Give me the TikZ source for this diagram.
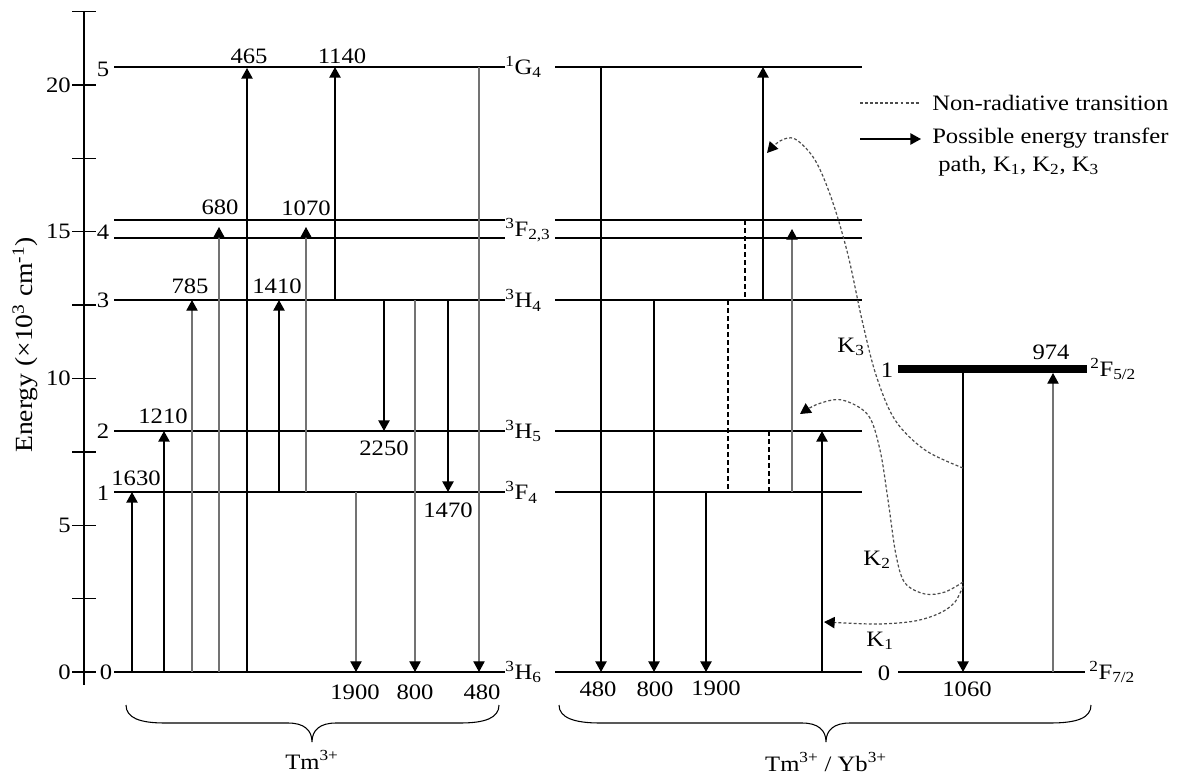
\documentclass[tikz,border=0pt]{standalone}
\usepackage{fontspec}
\setmainfont{Liberation Serif}[FakeStretch=1.12]
\usetikzlibrary{arrows.meta}
\newcommand\labfont{\fontsize{16.5}{19}\selectfont}
\begin{document}
\begin{tikzpicture}[x=0.75pt,y=-0.75pt,
  lvl/.style={line width=1.1pt,black},
  blk/.style={line width=1.1pt,black},
  gry/.style={line width=0.9pt,black!55},
  tipu/.style={-{Triangle[length=8pt,width=8.5pt,color=black]}},
  tipk/.style={-{Triangle[length=8pt,width=8.5pt,color=black]}},
  nrad/.style={line width=0.9pt,black,dash pattern=on 4pt off 2pt},
  etp/.style={line width=0.9pt,black!70,dash pattern=on 2.2pt off 1.6pt},
  lab/.style={font=\labfont,inner sep=0pt},
  brc/.style={line width=0.8pt,black}]
\useasboundingbox (0,0) rectangle (1199,774);
% axis
\draw[blk] (84,11) -- (84,685);
\foreach \v in {0,2.5,...,22.5} {\draw[blk] (72,672-\v*29.35) -- (96,672-\v*29.35);}
\foreach \v in {0,5,10,15,20} {\node[lab,anchor=east] (ax\v) at (71,672-\v*29.35) {\v};}
\node[lab,rotate=90,font=\fontsize{18.5}{20}\selectfont] (elab) at (25,345) {Energy (×10\textsuperscript{3} cm\textsuperscript{-1})};
% level numbers
\node[lab] (n5) at (103,69) {5};
\node[lab] (n4) at (103,232) {4};
\node[lab] (n3) at (103,300) {3};
\node[lab] (n2) at (103,431) {2};
\node[lab] (n1) at (103,493) {1};
\node[lab] (n0) at (106,672) {0};
% left levels
\foreach \y in {67,220,238,300,431,492,672} {\draw[lvl] (114,\y) -- (505,\y);}
% right levels
\foreach \y in {67,220,238,300,431,492,672} {\draw[lvl] (555,\y) -- (862,\y);}
% level names
\node[lab,anchor=west] (g4) at (505,67) {\textsuperscript{1}G\textsubscript{4}};
\node[lab,anchor=west] (f23) at (505,230) {\textsuperscript{3}F\textsubscript{2,3}};
\node[lab,anchor=west] (h4) at (505,300) {\textsuperscript{3}H\textsubscript{4}};
\node[lab,anchor=west] (h5) at (505,431) {\textsuperscript{3}H\textsubscript{5}};
\node[lab,anchor=west] (f4) at (505,492) {\textsuperscript{3}F\textsubscript{4}};
\node[lab,anchor=west] (h6) at (505,672) {\textsuperscript{3}H\textsubscript{6}};
% left transitions
\draw[blk,tipu] (132,672) -- (132,492);
\draw[blk,tipu] (164,672) -- (164,431);
\draw[gry,tipu] (192,672) -- (192,300);
\draw[gry,tipu] (219,672) -- (219,227);
\draw[blk,tipu] (247,672) -- (247,68);
\draw[blk,tipu] (279,492) -- (279,300);
\draw[gry,tipu] (306,492) -- (306,227);
\draw[blk,tipu] (335,300) -- (335,67);
\draw[gry,tipu] (356,492) -- (356,672);
\draw[blk,tipu] (384,300) -- (384,431);
\draw[gry,tipu] (415,300) -- (415,672);
\draw[blk,tipu] (448,300) -- (448,492);
\draw[gry,tipu] (479,67) -- (479,672);
% left labels
\node[lab] (t1630) at (136,478) {1630};
\node[lab] (t1210) at (163,416) {1210};
\node[lab] (t785) at (190,286) {785};
\node[lab] (t1410) at (277,286) {1410};
\node[lab] (t680) at (220,207) {680};
\node[lab] (t1070) at (306,208) {1070};
\node[lab] (t465) at (249,56) {465};
\node[lab] (t1140) at (342,56) {1140};
\node[lab] (t2250) at (384,448) {2250};
\node[lab] (t1470) at (448,510) {1470};
\node[lab] (t1900) at (355,692) {1900};
\node[lab] (t800) at (415,692) {800};
\node[lab] (t480) at (482,692) {480};
% right Tm transitions
\draw[blk,tipu] (601,67) -- (601,672);
\draw[blk,tipu] (654,300) -- (654,672);
\draw[blk,tipu] (706,492) -- (706,672);
\draw[nrad] (728,300) -- (728,492);
\draw[nrad] (745,220) -- (745,300);
\draw[blk,tipu] (763,300) -- (763,67);
\draw[nrad] (769,431) -- (769,492);
\draw[gry,tipu] (792,492) -- (792,229);
\draw[blk,tipu] (822,672) -- (822,431);
\node[lab] (r480) at (598,689) {480};
\node[lab] (r800) at (655,689) {800};
\node[lab] (r1900) at (716,688) {1900};
% Yb
\draw[line width=6.5pt] (898,369) -- (1087,369);
\draw[lvl] (898,672) -- (1085,672);
\draw[blk,tipu] (963,373) -- (963,672);
\draw[gry,tipu] (1053,672) -- (1053,373);
\node[lab] (y1) at (887,370) {1};
\node[lab] (y0) at (884,673) {0};
\node[lab] (t974) at (1051,352) {974};
\node[lab] (t1060) at (967,689) {1060};
\node[lab,anchor=west] (f52) at (1090,369) {\textsuperscript{2}F\textsubscript{5/2}};
\node[lab,anchor=west] (f72) at (1089,672) {\textsuperscript{2}F\textsubscript{7/2}};
% energy transfer curves
\draw[etp,tipk] plot[smooth,tension=0.55] coordinates {(963,468) (925,450) (895,420) (876,375) (862,320) (848,255) (832,200) (815,160) (795,139) (780,141) (767,153)};
\draw[etp,tipk] plot[smooth,tension=0.55] coordinates {(963,582) (945,592) (925,594) (905,583) (896,555) (888,500) (880,450) (868,415) (842,400) (818,404) (800,414)};
\draw[etp,tipk] plot[smooth,tension=0.55] coordinates {(963,586) (955,602) (940,613) (915,621) (880,624) (845,623) (824,622)};
\node[lab] (k3) at (851,347) {K\textsubscript{3}};
\node[lab] (k2) at (877,560) {K\textsubscript{2}};
\node[lab] (k1) at (880,641) {K\textsubscript{1}};
% legend
\coordinate (lg1a) at (860,103); \coordinate (lg1b) at (920,103);
\coordinate (lg2a) at (860,139); \coordinate (lg2b) at (921,139);
\draw[etp] (lg1a) -- (lg1b);
\draw[blk,tipu] (lg2a) -- (lg2b);
\node[lab,anchor=west] (lgt1) at (932,103) {Non-radiative transition};
\node[lab,anchor=west] (lgt2) at (932,138) {Possible energy transfer};
\node[lab,anchor=west] (lgt3) at (938,166) {path, K\textsubscript{1}, K\textsubscript{2}, K\textsubscript{3}};
% braces
\draw[brc] (126,705) .. controls (126,718) and (140,723) .. (165,723) -- (288,723) .. controls (304,723) and (312,730) .. (312,742) .. controls (312,730) and (320,723) .. (336,723) -- (460,723) .. controls (485,723) and (499,718) .. (499,705);
\draw[brc] (559,705) .. controls (559,718) and (575,723) .. (600,723) -- (802,723) .. controls (818,723) and (826,730) .. (826,742) .. controls (826,730) and (834,723) .. (850,723) -- (1050,723) .. controls (1077,723) and (1091,718) .. (1091,705);
\node[lab] (tm) at (312,760) {Tm\textsuperscript{3+}};
\node[lab] (tmyb) at (826,762) {Tm\textsuperscript{3+} / Yb\textsuperscript{3+}};
\end{tikzpicture}
\end{document}
